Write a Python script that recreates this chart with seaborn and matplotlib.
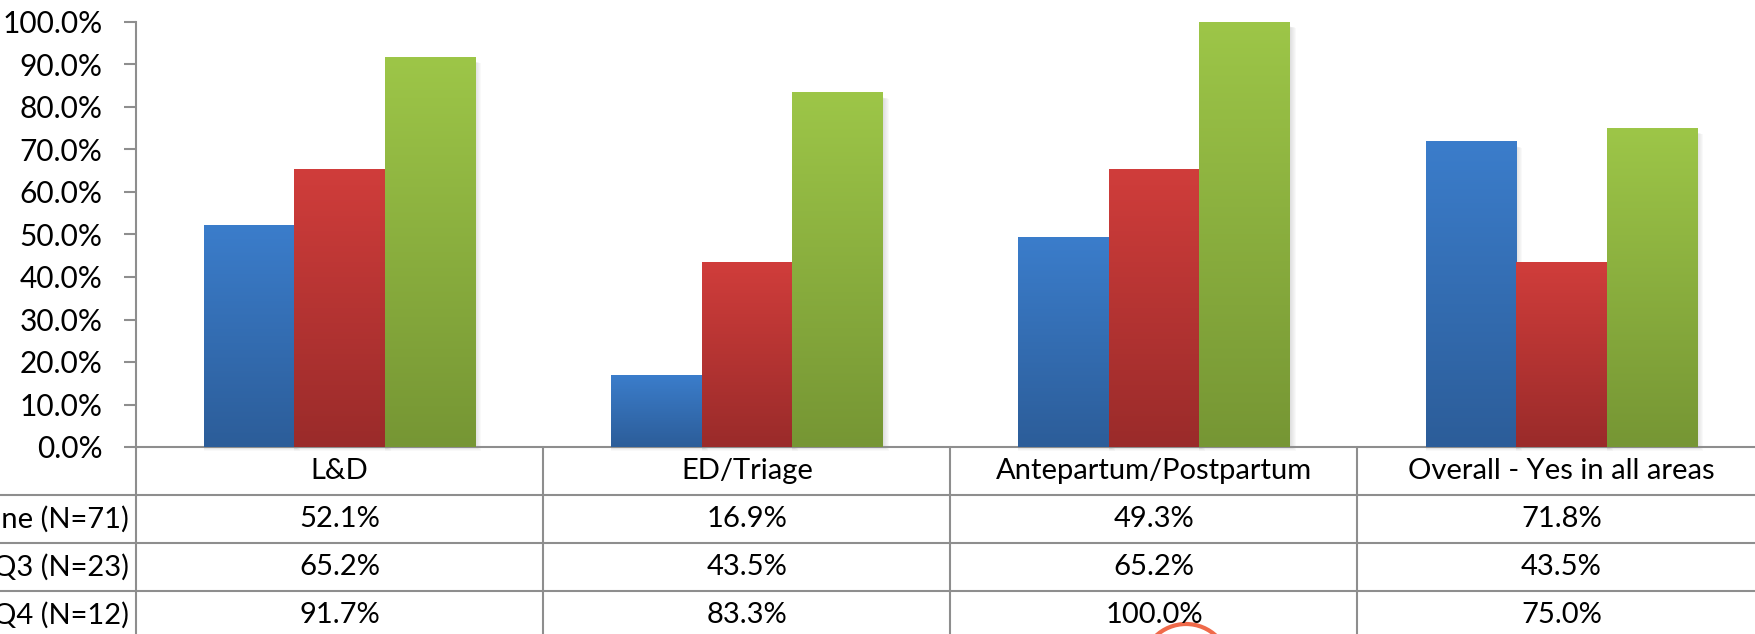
import numpy as np
import pandas as pd
import matplotlib
matplotlib.use("Agg")
import matplotlib.pyplot as plt
import matplotlib.transforms as mtransforms
from matplotlib.colors import LinearSegmentedColormap
from matplotlib.patches import Rectangle, Circle
from matplotlib.lines import Line2D
import seaborn as sns

# ---- data ----
areas = ["L&D", "ED/Triage", "Antepartum/Postpartum", "Overall - Yes in all areas"]
groups = ["Baseline (N=71)", "Q3 (N=23)", "Q4 (N=12)"]
baseline = [52.1, 16.9, 49.3, 71.8]
q3 = [65.2, 43.5, 65.2, 43.5]
q4 = [91.7, 83.3, 100.0, 75.0]
y_ticks = [0, 10, 20, 30, 40, 50, 60, 70, 80, 90, 100]

series = {groups[0]: baseline, groups[1]: q3, groups[2]: q4}
df = pd.DataFrame(
    [(a, g, v) for g in groups for a, v in zip(areas, series[g])],
    columns=["area", "group", "value"],
)

# gradient endpoints (top, bottom) for each series
flat = ["#3570B8", "#B53533", "#8BAF3F"]
grads = [("#3B7DCB", "#2C5D99"), ("#D03D3B", "#9A2B2A"), ("#9DC648", "#769634")]
grid_col = "#8E8E8E"

sns.set_theme(style="white")
plt.rcParams["font.family"] = ["Lato", "DejaVu Sans"]

W, H = 1756, 634
fig = plt.figure(figsize=(W / 100, H / 100), dpi=100, facecolor="white")


def fx(px):
    return px / W


def fy(py):
    return 1 - py / H


ax_left, ax_right, ax_top, ax_bot = 136, 1765, 22, 447
ax = fig.add_axes([fx(ax_left), fy(ax_bot), fx(ax_right - ax_left), (ax_bot - ax_top) / H])

sns.barplot(data=df, x="area", y="value", hue="group", order=areas, hue_order=groups,
            palette=flat, saturation=1, width=0.667, legend=False, ax=ax, zorder=3)

ax.set_xlim(-0.5, len(areas) - 0.5)
ax.set_ylim(0, 100)

# per-bar vertical gradient fill and soft drop shadow
dx = (len(areas)) / (ax_right - ax_left)      # data units per pixel (x)
dy = 100 / (ax_bot - ax_top)                  # data units per pixel (y)
grad = np.linspace(0, 1, 256)[:, None]
for cont, (top, bot) in zip(ax.containers, grads):
    cmap = LinearSegmentedColormap.from_list("g", [top, bot])
    for rect in cont:
        x0, w, h = rect.get_x(), rect.get_width(), rect.get_height()
        for k in range(1, 7):
            ax.add_patch(Rectangle((x0, -k * dy * 0.6), w + k * dx, h - 4 * dy + k * dy * 0.3,
                                   facecolor="#404040", alpha=0.028, lw=0, zorder=2, clip_on=False))
        ax.imshow(grad, extent=[x0, x0 + w, 0, h], origin="upper", cmap=cmap,
                  aspect="auto", interpolation="bilinear", zorder=3.5)
        rect.set_visible(False)

ax.set_xlim(-0.5, len(areas) - 0.5)
ax.set_ylim(0, 100)
ax.set_yticks(y_ticks)
ax.set_yticklabels([f"{t:.1f}%" for t in y_ticks])
ax.set_xticks([])
ax.set_xlabel("")
ax.set_ylabel("")
ax.tick_params(axis="y", which="major", left=True, length=9, width=1.5, color=grid_col,
               labelsize=21.5, pad=15, labelcolor="black", direction="out")
for s in ["top", "right"]:
    ax.spines[s].set_visible(False)
for s in ["left", "bottom"]:
    ax.spines[s].set_color(grid_col)
    ax.spines[s].set_linewidth(1.5)

# ---- data table under the plot ----
row_h = 48
tfs = 21
rows_y = [ax_bot + row_h * (i + 1) for i in range(3)]          # horizontal rules
col_edges = [ax_left + 407 * i for i in range(1, 4)]           # column dividers
for y in rows_y:
    fig.add_artist(Line2D([0, 1], [fy(y), fy(y)], color=grid_col, lw=1.5))
fig.add_artist(Line2D([fx(ax_left), fx(ax_left)], [fy(ax_bot), 0], color=grid_col, lw=1.5))
for xe in col_edges:
    fig.add_artist(Line2D([fx(xe), fx(xe)], [fy(ax_bot), 0], color=grid_col, lw=1.5))

blend = mtransforms.blended_transform_factory(ax.transData, fig.transFigure)
hdr_y = ax_bot + row_h / 2
for i, a in enumerate(areas):
    fig.text(i, fy(hdr_y), a, transform=blend, ha="center", va="center", fontsize=tfs, color="black")
for r, g in enumerate(groups):
    cy = ax_bot + row_h * (r + 1) + row_h / 2
    fig.text(fx(129), fy(cy), g, ha="right", va="center", fontsize=tfs, color="black")
    for i, v in enumerate(series[g]):
        fig.text(i, fy(cy), f"{v:.1f}%", transform=blend, ha="center", va="center",
                 fontsize=tfs, color="black")

# highlight ring near the bottom edge
fig.add_artist(Circle((1186, H - 668), 44, transform=None, fill=False,
                      edgecolor="#F06A4A", lw=3))

fig.savefig("out.png", dpi=100, facecolor="white")
